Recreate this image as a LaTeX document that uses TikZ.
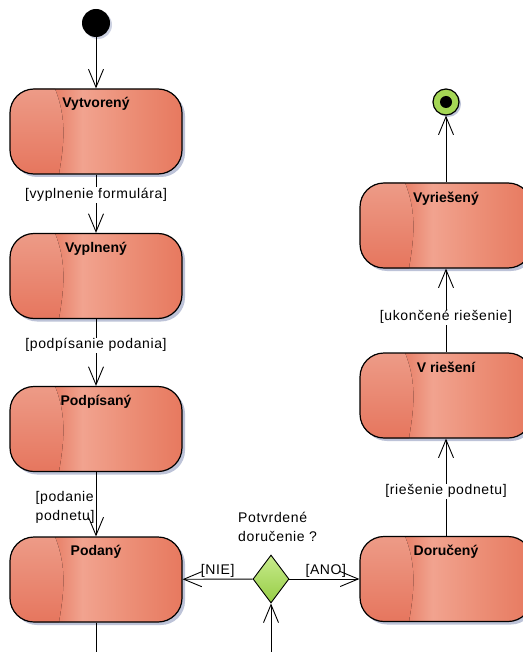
\documentclass[tikz,border=0pt]{standalone}
\usepackage{fontspec}
\setmainfont{Liberation Sans}
\newfontfamily\popisfont[LetterSpace=4.5]{Liberation Sans}
\usetikzlibrary{arrows.meta,shapes.geometric,shadows,calc,positioning}

\definecolor{stavKraj}{RGB}{232,128,104}
\definecolor{stavStred}{RGB}{241,163,143}
\definecolor{stavPrech}{RGB}{236,142,118}
\definecolor{stavPravy}{RGB}{231,121,95}
\definecolor{kosakHore}{RGB}{237,155,135}
\definecolor{kosakDole}{RGB}{230,118,94}
\definecolor{tien}{RGB}{172,180,206}
\definecolor{zelenaHore}{RGB}{200,235,140}
\definecolor{zelenaDole}{RGB}{150,205,70}
\definecolor{zelena}{RGB}{165,215,85}

\pgfdeclarehorizontalshading{stavtien}{100bp}{color(0bp)=(stavKraj); color(25bp)=(stavKraj); color(38bp)=(stavKraj); color(46bp)=(stavStred); color(60bp)=(stavPrech); color(75bp)=(stavPravy); color(100bp)=(stavPravy)}

\begin{document}
\begin{tikzpicture}[x=1pt,y=-1pt,
    stav/.style={draw, line width=1.2pt, rounded corners=24pt,
        minimum width=172pt, minimum height=85pt, inner sep=0pt,
        shade, shading=stavtien,
        drop shadow={shadow xshift=3pt, shadow yshift=-3pt, fill=tien, opacity=0.8},
        path picture={
            \fill[sharp corners, top color=kosakHore, bottom color=kosakDole]
                (path picture bounding box.north west) -- ++(45pt,0pt)
                .. controls +(12pt,-30pt) and +(5pt,30pt) .. ($(path picture bounding box.south west)+(49pt,0pt)$)
                -- (path picture bounding box.south west) -- cycle;
        }},
    nazov/.style={anchor=north, yshift=-9pt, inner sep=0pt,
        font=\fontsize{14}{17}\selectfont\bfseries},
    popis/.style={font=\popisfont\fontsize{14}{19}\selectfont, inner sep=1pt},
    prechod/.style={-{Straight Barb[length=18pt,width=15pt]}, line width=0.9pt},
]
    \useasboundingbox (0,0) rectangle (522,652);

    % Pociatocny stav
    \node[circle, fill=black, minimum size=28pt, inner sep=0pt,
        drop shadow={shadow xshift=2pt, shadow yshift=-2pt, fill=tien, opacity=0.6}] (zaciatok) at (96,23) {};

    % Stavy vlavo
    \node[stav, label={[nazov]north:Vytvorený}] (vytvoreny) at (96,131.5) {};
    \node[stav, label={[nazov]north:Vyplnený}] (vyplneny) at (96,276) {};
    \node[stav, label={[nazov]north:Podpísaný}] (podpisany) at (96,429) {};
    \node[stav, label={[nazov]north:Podaný}] (podany) at (96,579.5) {};

    % Stavy vpravo
    \node[stav, label={[nazov]north:Doručený}] (doruceny) at (446,579) {};
    \node[stav, label={[nazov]north:V riešení}] (vrieseni) at (446,395.5) {};
    \node[stav, label={[nazov]north:Vyriešený}] (vyrieseny) at (446,225.5) {};

    % Koncovy stav
    \node[circle, draw, line width=1.2pt, fill=zelena, minimum size=26pt, inner sep=0pt,
        drop shadow={shadow xshift=2pt, shadow yshift=-2pt, fill=tien, opacity=0.8},
        path picture={\fill[black] (path picture bounding box.center) circle (6pt);}] (koniec) at (446,102) {};

    % Rozhodnutie
    \node[diamond, draw, line width=0.9pt, top color=zelenaHore, bottom color=zelenaDole,
        minimum width=36pt, minimum height=48pt, inner sep=0pt] (rozhod) at (271,579) {};
    \node[popis, align=left, anchor=south west] (otazka) at ($(rozhod.north)+(-34pt,12pt)$)
        {Potvrdené\\doručenie ?};

    % Volne konce
    \coordinate (dolePodany) at (96,665);
    \coordinate (doleRozhod) at (271,665);

    % Prechody
    \draw[prechod] (zaciatok) -- (vytvoreny);
    \draw[prechod] (vytvoreny) -- (vyplneny)
        node[popis, fill=white, pos=0.35] (p1) {[vyplnenie formulára]};
    \draw[prechod] (vyplneny) -- (podpisany)
        node[popis, fill=white, pos=0.39] (p2) {[podpísanie podania]};
    \draw[prechod] (podpisany) -- (podany)
        node[popis, align=left, left, pos=0.55] (p3) {[podanie\\podnetu]};
    \draw[line width=0.9pt] (podany) -- (dolePodany);
    \draw[prechod] (doleRozhod) -- (rozhod);
    \draw[prechod] (rozhod) -- (podany) node[popis, above, midway] (p4) {[NIE]};
    \draw[prechod] (rozhod) -- (doruceny) node[popis, above, pos=0.52] (p5) {[ANO]};
    \draw[prechod] (doruceny) -- (vrieseni)
        node[popis, fill=white, pos=0.46] (p6) {[riešenie podnetu]};
    \draw[prechod] (vrieseni) -- (vyrieseny)
        node[popis, fill=white, pos=0.42] (p7) {[ukončené riešenie]};
    \draw[prechod] (vyrieseny) -- (koniec);
\end{tikzpicture}
\end{document}
